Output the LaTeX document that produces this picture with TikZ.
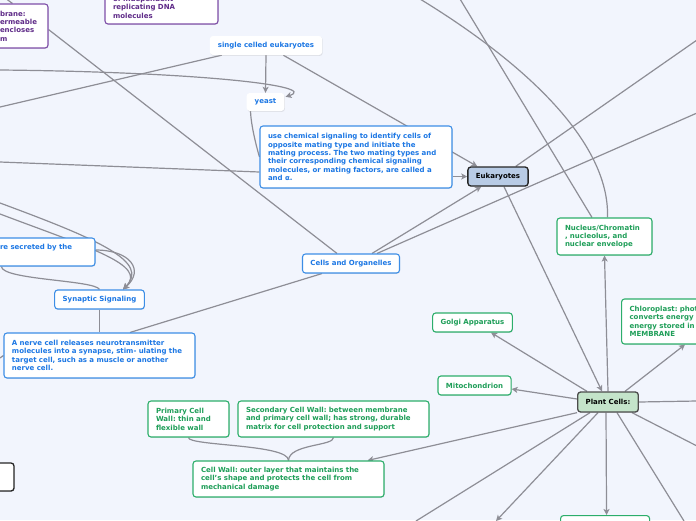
\documentclass[tikz,border=0pt]{standalone}
\usepackage{fontspec}
\setmainfont{DejaVu Sans}
\usetikzlibrary{arrows.meta,calc,shadows}
\definecolor{bgc}{HTML}{F2F5FD}
\definecolor{ln}{HTML}{8E8E96}
\definecolor{bt}{HTML}{1C77E4}
\definecolor{bb}{HTML}{3D8EE6}
\definecolor{gt}{HTML}{1E9E58}
\definecolor{gb}{HTML}{2DAE6B}
\definecolor{ptx}{HTML}{5F2B88}
\definecolor{pb}{HTML}{7E4EA8}
\definecolor{ef}{HTML}{B8CBE5}
\definecolor{pf}{HTML}{C4E4CA}
\pgfdeclarelayer{back}\pgfdeclarelayer{links}
\pgfsetlayers{back,links,main}
\begin{document}
\begin{tikzpicture}[x=1pt,y=-1pt,
  base/.style={rounded corners=3pt, fill=white, inner xsep=8pt, inner ysep=2pt,
    font=\fontsize{7}{8.4}\selectfont\bfseries\frenchspacing,
    drop shadow={opacity=0.18, shadow xshift=0.6pt, shadow yshift=-0.9pt}},
  bluebox/.style={base, draw=bb, line width=1.1pt, text=bt},
  greenbox/.style={base, draw=gb, line width=1.1pt, text=gt},
  purplebox/.style={base, draw=pb, line width=1.1pt, text=ptx},
  plainbox/.style={base, text=bt},
  mainbox/.style={base, draw=black!85, line width=1.3pt, text=black},
  link/.style={draw=ln, line width=1.2pt},
  arr/.style={link, -{Stealth[length=6pt,width=6pt,inset=1.5pt]}},
]
\useasboundingbox (0,0) rectangle (696,520);
\begin{pgfonlayer}{back}
\fill[bgc] (0,0) rectangle (696,520);
\end{pgfonlayer}

% nodes
\node[plainbox, minimum width=110pt, minimum height=19pt] (sce) at (266,45.5) {single celled eukaryotes};
\node[plainbox, minimum width=37pt, minimum height=18pt] (yeast) at (265.5,102) {yeast};
\node[bluebox, text width=176pt, align=left, minimum height=62pt] (chem) at (356,157) {use chemical signaling to identify cells of\\ opposite mating type and initiate the\\ mating process. The two mating types and\\ their corresponding chemical signaling\\ molecules, or mating factors, are called a\\ and α.};
\node[mainbox, fill=ef, minimum width=60pt, minimum height=19pt] (euk) at (498,176.5) {Eukaryotes};
\node[bluebox, minimum width=96pt, minimum height=19pt] (cao) at (351,263.5) {Cells and Organelles};
\node[bluebox, minimum width=89pt, minimum height=19pt] (syn) at (99.5,299.5) {Synaptic Signaling};
\node[bluebox, text width=175pt, align=left, minimum height=45pt] (nerve) at (99.5,355.5) {A nerve cell releases neurotransmitter\\ molecules into a synapse, stim- ulating the\\ target cell, such as a muscle or another\\ nerve cell.};
\node[bluebox, text width=87pt, align=left, minimum height=28pt] (secr) at (43.5,252) {re secreted by the\\ \strut};
\node[purplebox, text width=40pt, align=left, minimum height=44pt] (memb) at (20,26) {brane:\\ ermeable\\ encloses\\ m};
\node[purplebox, text width=97pt, align=left, minimum height=34pt] (dna) at (161.5,7) {of independent\\ replicating DNA\\ molecules};
\node[greenbox, text width=79pt, align=left, minimum height=37pt] (nuc) at (604.5,236.5) {Nucleus/Chromatin\\ , nucleolus, and\\ nuclear envelope};
\node[greenbox, text width=140pt, align=left, minimum height=45pt, anchor=west] (chl) at (621,321.5) {Chloroplast: photosynthesis\\ converts energy of\\ energy stored in\\ MEMBRANE};
\node[greenbox, minimum width=79pt, minimum height=19pt] (golgi) at (472.5,322.5) {Golgi Apparatus};
\node[greenbox, minimum width=73pt, minimum height=19pt] (mito) at (474.5,385.5) {Mitochondrion};
\node[mainbox, fill=pf, draw=black!70, minimum width=60pt, minimum height=20pt] (plant) at (608,402) {Plant Cells:};
\node[greenbox, text width=65pt, align=left, minimum height=36pt] (prim) at (188.5,419) {Primary Cell\\ Wall: thin and\\ flexible wall};
\node[greenbox, text width=175pt, align=left, minimum height=36pt] (sec) at (333.5,419) {Secondary Cell Wall: between membrane\\ and primary cell wall; has strong, durable\\ matrix for cell protection and support};
\node[greenbox, text width=175pt, align=left, minimum height=36pt] (wall) at (288.5,479) {Cell Wall: outer layer that maintains the\\ cell's shape and protects the cell from\\ mechanical damage};
\node[greenbox, minimum width=89pt, minimum height=25pt, anchor=north west] (bot) at (560,515) {};
\node[mainbox, fill=white, minimum width=34pt, minimum height=28pt] (blk) at (-3,477) {};

% free ends
\coordinate (L1) at (0,70);
\coordinate (L2) at (0,107);
\coordinate (L3) at (0,162);
\coordinate (L4) at (0,203);
\coordinate (L5) at (0,214);
\coordinate (L6) at (0,358);
\coordinate (T1) at (1,-5);
\coordinate (T2) at (420,-1);
\coordinate (T3) at (460,-1);
\coordinate (R1) at (697,40);
\coordinate (R2) at (697,113);
\coordinate (R3) at (697,401);
\coordinate (R4) at (697,446);
\coordinate (B1) at (684,521);
\coordinate (B2) at (496,521);
\coordinate (B3) at (416,521);

\begin{pgfonlayer}{links}
\draw[arr] (sce.south) -- (yeast.north);
\draw[arr] (L1) .. controls (200,72) and (320,86) .. ($(yeast.north east)+(1,4)$);
\draw[link] ($(sce.south west)+(12,0)$) -- (L2);
\draw[arr] ($(sce.south east)+(-39,0)$) -- ($(euk.north west)+(10,0)$);
\draw[arr] (chem.east |- euk.west) -- (euk.west);
\draw[link] ($(yeast.south west)+(4,0)$) .. controls (251,125) and (256,145) .. (chem.west);
\draw[link] (L3) -- ($(chem.west)+(0,15)$);
\draw[arr] ($(cao.north)+(21,0)$) -- ($(euk.south west)+(14,0)$);
\draw[link] ($(cao.north)+(26,0)$) -- (R2);
\draw[link] ($(cao.north)+(-14,0)$) -- ($(memb.south east)+(0,-19)$);
\draw[link] ($(cao.south)+(-29,0)$) -- ($(nerve.north)+(30.5,0)$);
\draw[link] (syn.south) -- (nerve.north);
\draw[link] ($(secr.south west)+(10,0)$) .. controls (2,280) and (95,280) .. (syn.north);
\draw[arr] (L4) .. controls (100,240) and (150,262) .. ($(syn.north)+(23.5,0)$);
\draw[arr] (L5) .. controls (90,248) and (148,265) .. ($(syn.north)+(23.5,0)$);
\draw[arr] ($(secr.east)+(0,-2)$) .. controls (130,250) and (145,270) .. ($(syn.north)+(23.5,0)$);
\draw[link] (L6) -- (nerve.west);
\draw[link] (prim.south) .. controls (188,446) and (289,444) .. (wall.north);
\draw[link] (sec.south) .. controls (334,446) and (289,444) .. (wall.north);
\draw[arr] (plant.south west) -- ($(wall.north east)+(-17,0)$);
\draw[arr] ($(plant.west)+(0,-3)$) -- ($(mito.east)+(0,3.5)$);
\draw[arr] ($(plant.north west)+(10,0)$) -- ($(golgi.south)+(18.5,0)$);
\draw[arr] (plant.north) -- (nuc.south);
\draw[arr] ($(euk.south)+(6,0)$) -- ($(plant.north)+(-6,0)$);
\draw[arr] ($(plant.north east)+(-14,0)$) -- ($(chl.south west)+(64,0)$);
\draw[link] (plant.east) -- (R3);
\draw[link] ($(plant.south east)+(-7,0)$) -- (R4);
\draw[link] ($(plant.south)+(9,0)$) -- (B1);
\draw[arr] ($(plant.south)+(-2,0)$) -- ($(bot.north)+(1.5,0)$);
\draw[arr] ($(plant.south)+(-10,0)$) -- (B2);
\draw[link] ($(plant.south)+(-18,0)$) -- (B3);
\draw[link] ($(nuc.north)+(3,0)$) .. controls (610,140) and (520,60) .. (T2);
\draw[link] ($(nuc.north)+(-12.5,0)$) -- (T3);
\draw[link] ($(euk.north east)+(-13,0)$) -- (R1);
\draw[link] ($(memb.north west)+(21,0)$) -- (T1);
\end{pgfonlayer}
\end{tikzpicture}
\end{document}
